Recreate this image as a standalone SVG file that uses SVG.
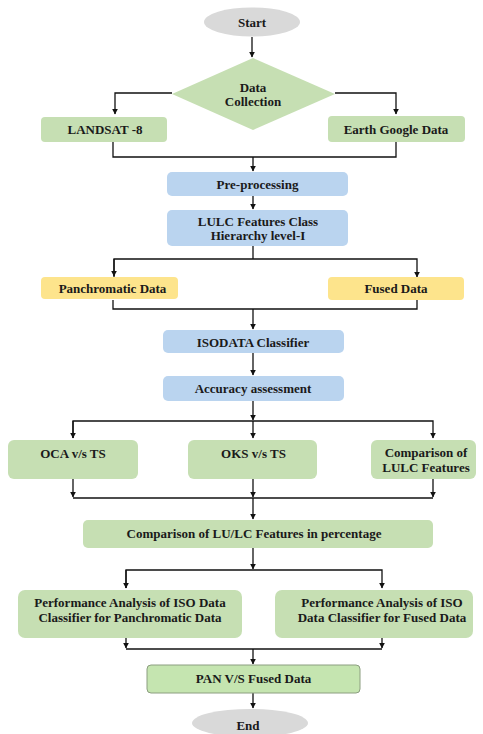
<svg xmlns="http://www.w3.org/2000/svg" width="483" height="734" viewBox="0 0 483 734">
<style>
text{font-family:"Liberation Serif","Times New Roman",serif;font-weight:bold;font-size:13px;fill:#1a1a1a;text-anchor:middle}
.g{fill:#c6dfb3}
.b{fill:#bad4ef}
.y{fill:#fde48c}
.e{fill:#d9d9d9}
.c{fill:none;stroke:#111;stroke-width:1.3}
</style>
<defs>
<marker id="a" viewBox="0 0 10 10" refX="9" refY="5" markerWidth="6" markerHeight="6" orient="auto" markerUnits="userSpaceOnUse">
<path d="M0,0 L10,5 L0,10 z" fill="#111"/>
</marker>
</defs>
<rect width="483" height="734" fill="#fff"/>
<g id="connectors">
<path class="c" d="M252,37 V57" marker-end="url(#a)"/>
<path class="c" d="M172,93 H115 V114" marker-end="url(#a)"/>
<path class="c" d="M335,93 H396 V114" marker-end="url(#a)"/>
<path class="c" d="M113,142 V157 H396 V142"/>
<path class="c" d="M253,157 V171" marker-end="url(#a)"/>
<path class="c" d="M253,196 V209" marker-end="url(#a)"/>
<path class="c" d="M253,246 V259"/>
<path class="c" d="M114,277 V259 H417 V277" marker-end="url(#a)"/>
<path class="c" d="M114,259 V276" marker-end="url(#a)"/>
<path class="c" d="M113,300 V309 H417 V300"/>
<path class="c" d="M253,309 V329" marker-end="url(#a)"/>
<path class="c" d="M253,353 V375" marker-end="url(#a)"/>
<path class="c" d="M253,401 V420" marker-end="url(#a)"/>
<path class="c" d="M73,438 V421 H433 V438" marker-end="url(#a)"/>
<path class="c" d="M73,421 V438" marker-end="url(#a)"/>
<path class="c" d="M253,421 V438" marker-end="url(#a)"/>
<path class="c" d="M73,479 V497" marker-end="url(#a)"/>
<path class="c" d="M253,479 V497" marker-end="url(#a)"/>
<path class="c" d="M433,479 V497" marker-end="url(#a)"/>
<path class="c" d="M73,498 H433"/>
<path class="c" d="M253,498 V519" marker-end="url(#a)"/>
<path class="c" d="M253,548 V569" marker-end="url(#a)"/>
<path class="c" d="M126,588 V570 H382 V588" marker-end="url(#a)"/>
<path class="c" d="M126,570 V588" marker-end="url(#a)"/>
<path class="c" d="M126,638 V648" marker-end="url(#a)"/>
<path class="c" d="M382,638 V648" marker-end="url(#a)"/>
<path class="c" d="M126,649 H382"/>
<path class="c" d="M253,649 V664" marker-end="url(#a)"/>
<path class="c" d="M253,693 V708" marker-end="url(#a)"/>
</g>
<g id="start"><ellipse class="e" cx="252" cy="22" rx="48" ry="14.5"/><text x="252" y="26.5">Start</text></g>
<g id="data-collection"><polygon class="g" points="253,58 335,94 253,130 172,94"/><text x="253" y="92">Data</text><text x="253" y="106">Collection</text></g>
<g id="landsat"><rect class="g" x="41" y="117" width="126" height="25" rx="4"/><text x="105" y="134">LANDSAT -8</text></g>
<g id="earth-google"><rect class="g" x="328" y="116" width="137" height="26" rx="4"/><text x="396" y="134">Earth Google Data</text></g>
<g id="preprocessing"><rect class="b" x="167" y="172" width="181" height="24" rx="5"/><text x="257.5" y="188.5">Pre-processing</text></g>
<g id="lulc-hierarchy"><rect class="b" x="167" y="210" width="181" height="36" rx="5"/><text x="258" y="226">LULC Features Class</text><text x="258" y="240">Hierarchy level-I</text></g>
<g id="panchromatic"><rect class="y" x="41" y="277" width="137" height="22" rx="4"/><text x="112.5" y="293">Panchromatic Data</text></g>
<g id="fused"><rect class="y" x="328" y="277" width="136" height="23" rx="4"/><text x="396" y="293">Fused Data</text></g>
<g id="isodata"><rect class="b" x="163" y="330" width="181" height="23" rx="5"/><text x="253" y="346.5">ISODATA Classifier</text></g>
<g id="accuracy"><rect class="b" x="163" y="376" width="181" height="25" rx="5"/><text x="253" y="392.5">Accuracy assessment</text></g>
<g id="oca"><rect class="g" x="8" y="440" width="130" height="39" rx="6"/><text x="73" y="457.5">OCA v/s TS</text></g>
<g id="oks"><rect class="g" x="188" y="440" width="129" height="39" rx="6"/><text x="253.5" y="457.5">OKS v/s TS</text></g>
<g id="comparison-lulc"><rect class="g" x="371" y="440" width="105" height="39" rx="6"/><text x="426" y="457">Comparison of</text><text x="426" y="472">LULC Features</text></g>
<g id="comparison-percentage"><rect class="g" x="83" y="520" width="350" height="28" rx="5"/><text x="254" y="537.5">Comparison of LU/LC Features in percentage</text></g>
<g id="perf-pan"><rect class="g" x="18" y="590" width="224" height="48" rx="7"/><text x="130" y="607">Performance Analysis of ISO Data</text><text x="130" y="621.5">Classifier for Panchromatic Data</text></g>
<g id="perf-fused"><rect class="g" x="275" y="590" width="198" height="48" rx="7"/><text x="382" y="607">Performance Analysis of ISO</text><text x="382" y="621.5">Data Classifier for Fused Data</text></g>
<g id="pan-vs-fused"><rect x="147" y="665" width="213" height="28" rx="4" fill="#c5e5b0" stroke="#8c9e80" stroke-width="1"/><text x="253.5" y="683">PAN V/S Fused Data</text></g>
<g id="end"><ellipse class="e" cx="250" cy="723" rx="58" ry="14"/><text x="248" y="730">End</text></g>
</svg>
